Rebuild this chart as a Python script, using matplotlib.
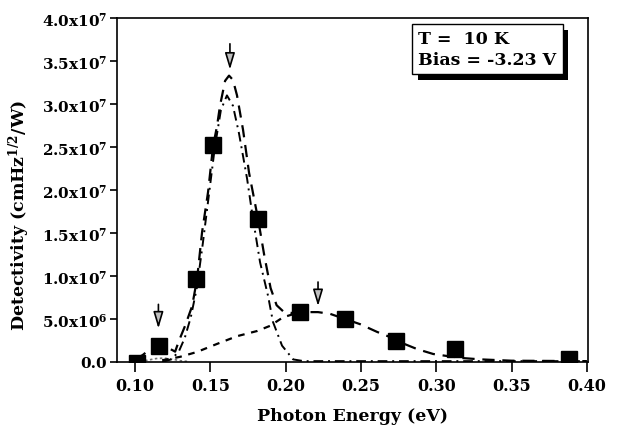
import numpy as np
import matplotlib
matplotlib.use('Agg')
import matplotlib.pyplot as plt
import matplotlib.patheffects as pe
from matplotlib.ticker import FuncFormatter, MultipleLocator

plt.rcParams['font.family'] = 'DejaVu Serif'
plt.rcParams['font.weight'] = 'bold'
plt.rcParams['mathtext.fontset'] = 'dejavuserif'
plt.rcParams['mathtext.default'] = 'bf'

# measured points (photon energy in eV, detectivity in units of 1e6)
energy = [0.1013, 0.1156, 0.1405, 0.1518, 0.1814, 0.2096, 0.2397, 0.2736, 0.3125, 0.388]
detect = [-0.1, 1.9, 9.65, 25.2, 16.6, 5.8, 5.0, 2.4, 1.5, 0.35]

# total fit (long dashes)
fit_x = [0.100, 0.105, 0.110, 0.1155, 0.1193, 0.1246, 0.1266, 0.1290, 0.1332, 0.1379,
         0.1412, 0.1445, 0.1485, 0.1518, 0.1544, 0.1564, 0.1598, 0.1624, 0.1650, 0.1677,
         0.1717, 0.1757, 0.1817, 0.1857, 0.1900, 0.1940, 0.1983, 0.2040, 0.2096, 0.2215,
         0.2295, 0.2394, 0.2494, 0.2607, 0.2693, 0.2760, 0.2873, 0.2980, 0.3070, 0.3180,
         0.3300, 0.3500, 0.4000]
fit_y = [0.3, 0.8, 1.5, 1.85, 1.75, 1.4, 1.2, 2.4, 4.2, 6.5,
         9.7, 15.1, 19.8, 25.1, 27.4, 29.8, 32.7, 33.3, 32.8, 31.0,
         27.0, 22.0, 16.6, 12.5, 8.6, 6.6, 5.9, 5.7, 5.8, 5.8,
         5.6, 5.0, 4.4, 3.5, 2.9, 2.3, 1.5, 0.93, 0.7, 0.45,
         0.3, 0.15, 0.1]

# narrow component (dash-dot)
narrow_x = [0.118, 0.124, 0.129, 0.133, 0.137, 0.141, 0.145, 0.149, 0.153, 0.157,
            0.161, 0.165, 0.169, 0.1744, 0.178, 0.183, 0.1883, 0.1916, 0.1976, 0.205,
            0.212, 0.30, 0.40]
narrow_y = [0.0, 0.3, 1.2, 2.8, 5.2, 8.6, 13.8, 19.4, 25.0, 29.3,
            31.0, 29.8, 26.6, 21.3, 17.0, 11.6, 7.7, 4.65, 1.9, 0.3,
            0.1, 0.1, 0.1]

# broad component (short dashes), visible part up to where it joins the total fit
broad_x = [0.118, 0.1299, 0.141, 0.1544, 0.1677, 0.181, 0.1896, 0.1983, 0.2096]
broad_y = [0.2, 0.6, 1.16, 2.1, 3.0, 3.6, 4.2, 5.2, 5.8]

# small component near 0.117 eV
small_x = [0.100, 0.108, 0.114, 0.119, 0.124, 0.130, 0.136]
small_y = [0.05, 0.2, 0.4, 0.45, 0.35, 0.15, 0.05]

# peak arrows: position, tail and head heights (1e6)
arrow_x = [0.1155, 0.163, 0.2215]
arrow_top = [6.7, 37.0, 9.3]
arrow_tip = [3.9, 34.0, 6.5]

scale = 1e6

fig = plt.figure(figsize=(6.21, 4.27), dpi=100)
ax = fig.add_axes([0.1884, 0.1499, 0.7585, 0.8056])

ax.plot(np.array(small_x), np.array(small_y) * scale, color='0.45', lw=1.2, ls=(0, (1.5, 1.5)))
ax.plot(np.array(broad_x), np.array(broad_y) * scale, color='black', lw=1.6, ls=(0, (3, 3)))
ax.plot(np.array(narrow_x), np.array(narrow_y) * scale, color='black', lw=1.4, ls=(0, (5, 2.5, 1, 2.5)))
ax.plot(np.array(fit_x), np.array(fit_y) * scale, color='black', lw=1.6, ls=(0, (5.5, 3.5)))

ax.plot(energy, np.array(detect) * scale, ls='none', marker='s', ms=11.5,
        mfc='black', mec='black', zorder=5)

for xa, yt, yh in zip(arrow_x, arrow_top, arrow_tip):
    ax.annotate('', xy=(xa, yh * scale), xytext=(xa, yt * scale),
                arrowprops=dict(arrowstyle='-|>,head_length=1.0,head_width=0.3',
                                fc='0.75', ec='black', lw=1.2, shrinkA=0, shrinkB=0))

ax.set_xlim(0.088, 0.4008)
ax.set_ylim(0, 4.0e7)
ax.xaxis.set_major_locator(MultipleLocator(0.05))
ax.yaxis.set_major_locator(MultipleLocator(5e6))


def yfmt(v, pos):
    if v <= 0:
        return '0.0'
    e = int(np.floor(np.log10(v) + 1e-9))
    return '%.1fx10$^{%d}$' % (v / 10 ** e, e)


ax.yaxis.set_major_formatter(FuncFormatter(yfmt))
ax.xaxis.set_major_formatter(FuncFormatter(lambda v, p: '%.2f' % v))
ax.tick_params(axis='x', direction='out', length=7, width=1.2, labelsize=11.5, pad=4)
ax.tick_params(axis='y', direction='out', length=5, width=1.2, labelsize=11, pad=2)
for s in ax.spines.values():
    s.set_linewidth(1.2)

ax.set_xlabel('Photon Energy (eV)', fontsize=12.5, fontweight='bold', labelpad=9)
ax.set_ylabel('Detectivity (cmHz$^{1/2}$/W)', fontsize=12.5, fontweight='bold', labelpad=4)
ax.yaxis.set_label_coords(-0.18, 0.43)

t = ax.text(0.64, 0.965, 'T =  10 K\nBias = -3.23 V', transform=ax.transAxes,
            fontsize=12.5, fontweight='bold', va='top', ha='left', linespacing=1.3,
            bbox=dict(boxstyle='square,pad=0.35', fc='white', ec='black', lw=1))
t.get_bbox_patch().set_path_effects([pe.SimplePatchShadow(offset=(4, -4), shadow_rgbFace='black', alpha=1),
                                     pe.Normal()])

plt.savefig('out.png', dpi=100)
